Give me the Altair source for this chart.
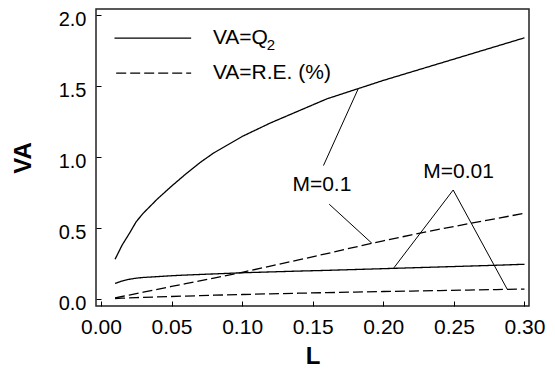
import altair as alt
import pandas as pd

# ---- data ----
L_vals = [0.01, 0.015, 0.02, 0.025, 0.03, 0.04, 0.05, 0.06, 0.07, 0.08, 0.10,
          0.12, 0.14, 0.16, 0.18, 0.20, 0.22, 0.24, 0.26, 0.28, 0.30]
q2_m01 = [0.28, 0.38, 0.46, 0.545, 0.605, 0.705, 0.795, 0.88, 0.96, 1.03, 1.145,
          1.24, 1.325, 1.41, 1.475, 1.54, 1.60, 1.66, 1.72, 1.78, 1.84]
q2_m001 = [0.11, 0.127, 0.139, 0.147, 0.152, 0.158, 0.164, 0.169, 0.173, 0.177, 0.185,
           0.191, 0.197, 0.202, 0.208, 0.214, 0.22, 0.226, 0.232, 0.238, 0.245]
re_m01 = [0.008, 0.018, 0.028, 0.038, 0.048, 0.068, 0.089, 0.108, 0.128, 0.148, 0.188,
          0.232, 0.276, 0.32, 0.366, 0.41, 0.452, 0.492, 0.53, 0.567, 0.604]
re_m001 = [0.003, 0.006, 0.008, 0.010, 0.012, 0.015, 0.018, 0.021, 0.024, 0.027, 0.032,
           0.037, 0.041, 0.045, 0.049, 0.053, 0.056, 0.06, 0.063, 0.067, 0.07]

series_names = ["Q2 M=0.1", "Q2 M=0.01", "RE M=0.1", "RE M=0.01"]
series_kind = ["Q2", "Q2", "RE", "RE"]
series_vals = [q2_m01, q2_m001, re_m01, re_m001]

# legend (in data units)
legend_labels = ["VA=Q", "VA=R.E. (%)"]
legend_kind = ["Q2", "RE"]
legend_y = [1.838, 1.591]
legend_x0 = [0.0096, 0.0108]
legend_x1 = [0.0639, 0.0639]
legend_text_x = 0.0793
subscript_text = "2"
subscript_x = 0.1175

# annotation labels and leader lines (data units)
ann_text = ["M=0.1", "M=0.01"]
ann_x = [0.1565, 0.2533]
ann_y = [0.80, 0.892]
leader_id = ["a", "a", "b", "b", "c", "c", "c"]
leader_x = [0.1576, 0.1824, 0.1617, 0.1919, 0.2072, 0.2495, 0.2877]
leader_y = [0.94, 1.485, 0.668, 0.393, 0.216, 0.768, 0.0705]

x_ticks = [round(i * 0.025, 3) for i in range(13)]
y_ticks = [round(i * 0.25, 2) for i in range(9)]

FONT = "Liberation Sans"
x_dom = [-0.0035, 0.3032]
y_dom = [-0.049, 2.043]

rows = []
for name, kind, vals in zip(series_names, series_kind, series_vals):
    for l, v in zip(L_vals, vals):
        rows.append({"series": name, "kind": kind, "L": l, "VA": v})
df = pd.DataFrame(rows)

xs = alt.Scale(domain=x_dom, nice=False, zero=False)
ys = alt.Scale(domain=y_dom, nice=False, zero=False)
dash = alt.StrokeDash("kind:N", scale=alt.Scale(domain=["Q2", "RE"], range=[[1, 0], [10, 4]]), legend=None)

x_axis = alt.Axis(values=x_ticks, title="L", grid=False, domain=False,
                  tickSize=5, offset=-5, tickColor="black", tickWidth=1,
                  labelExpr="abs(datum.value*20 - round(datum.value*20)) < 1e-6 ? format(datum.value, '.2f') : ''",
                  labelFont=FONT, labelFontSize=21, labelColor="black", labelPadding=10,
                  labelFlush=False, labelOverlap=False,
                  titleFont=FONT, titleFontSize=24, titleFontWeight="bold", titleColor="black", titlePadding=7)
y_axis = alt.Axis(values=y_ticks, title="VA", grid=False, domain=False,
                  tickSize=5, offset=-5, tickColor="black", tickWidth=1,
                  labelExpr="abs(datum.value*2 - round(datum.value*2)) < 1e-6 ? format(datum.value, '.1f') : ''",
                  labelFont=FONT, labelFontSize=20, labelColor="black", labelPadding=10,
                  labelFlush=False, labelOverlap=False, labelOffset=4,
                  titleFont=FONT, titleFontSize=24, titleFontWeight="bold", titleColor="black", titlePadding=23)

curves = alt.Chart(df).mark_line(color="black", strokeWidth=1.3).encode(
    x=alt.X("L:Q", scale=xs, axis=x_axis),
    y=alt.Y("VA:Q", scale=ys, axis=y_axis),
    detail="series:N",
    strokeDash=dash,
)

leg_df = pd.DataFrame({"kind": legend_kind, "x0": legend_x0, "x1": legend_x1, "y": legend_y,
                       "label": legend_labels, "tx": [legend_text_x] * 2})
leg_lines = alt.Chart(leg_df).mark_rule(color="black", strokeWidth=1.3).encode(
    x=alt.X("x0:Q", scale=xs), x2="x1:Q", y=alt.Y("y:Q", scale=ys), strokeDash=dash)
leg_text = alt.Chart(leg_df).mark_text(align="left", baseline="middle", font=FONT, fontSize=21,
                                       color="black").encode(
    x=alt.X("tx:Q", scale=xs), y=alt.Y("y:Q", scale=ys), text="label:N")
sub_df = pd.DataFrame({"x": [subscript_x], "y": [legend_y[0]], "t": [subscript_text]})
sub_text = alt.Chart(sub_df).mark_text(align="left", baseline="middle", font=FONT, fontSize=15,
                                       color="black", dy=7).encode(
    x=alt.X("x:Q", scale=xs), y=alt.Y("y:Q", scale=ys), text="t:N")

ann_df = pd.DataFrame({"x": ann_x, "y": ann_y, "t": ann_text})
ann = alt.Chart(ann_df).mark_text(align="center", baseline="middle", font=FONT, fontSize=21,
                                  color="black").encode(
    x=alt.X("x:Q", scale=xs), y=alt.Y("y:Q", scale=ys), text="t:N")

lead_df = pd.DataFrame({"id": leader_id, "x": leader_x, "y": leader_y, "o": list(range(len(leader_x)))})
leaders = alt.Chart(lead_df).mark_line(color="black", strokeWidth=1).encode(
    x=alt.X("x:Q", scale=xs), y=alt.Y("y:Q", scale=ys), detail="id:N", order="o:Q")

chart = alt.layer(curves, leg_lines, leg_text, sub_text, ann, leaders).properties(
    width=433, height=297, autosize="none", background="white",
    padding={"left": 88, "top": 1, "right": 18, "bottom": 62},
).configure_view(stroke="#222", strokeWidth=1.5)

chart.save("out.html", embed_options={"renderer": "svg", "actions": False})
